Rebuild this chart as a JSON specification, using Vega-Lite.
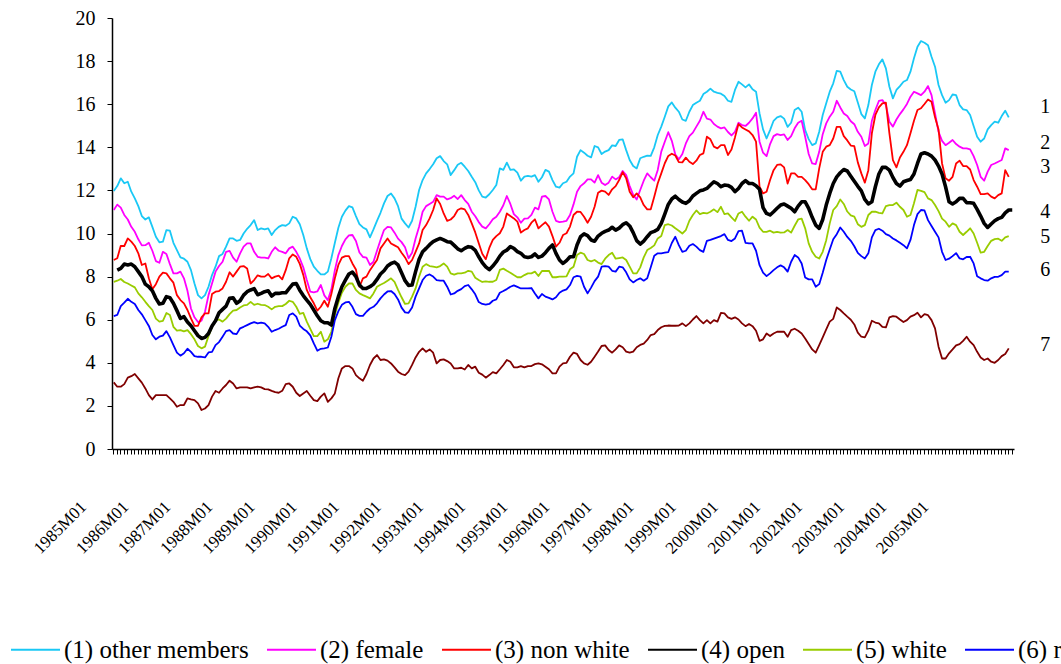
{
  "$schema": "https://vega.github.io/schema/vega-lite/v6.json",
  "width": 902,
  "height": 431,
  "autosize": {"type": "none"},
  "padding": {"left": 112, "top": 18, "right": 47, "bottom": 215},
  "background": "white",
  "config": {"view": {"stroke": null}, "font": "Liberation Serif"},
  "datasets": {
    "series": [
      {"m":"1985M01","s1":11.97,"s2":11.09,"s3":8.77,"s4":null,"s5":7.76,"s6":6.17,"s7":3.09},
      {"m":"1985M02","s1":12.20,"s2":11.34,"s3":8.85,"s4":8.30,"s5":7.81,"s6":6.22,"s7":2.89},
      {"m":"1985M03","s1":12.56,"s2":11.20,"s3":9.43,"s4":8.38,"s5":7.89,"s6":6.63,"s7":2.89},
      {"m":"1985M04","s1":12.33,"s2":10.86,"s3":9.42,"s4":8.58,"s5":7.75,"s6":6.79,"s7":3.01},
      {"m":"1985M05","s1":12.40,"s2":10.65,"s3":9.77,"s4":8.54,"s5":7.68,"s6":6.97,"s7":3.31},
      {"m":"1985M06","s1":11.94,"s2":10.31,"s3":9.62,"s4":8.58,"s5":7.59,"s6":6.83,"s7":3.38},
      {"m":"1985M07","s1":11.63,"s2":10.08,"s3":9.42,"s4":8.46,"s5":7.50,"s6":6.73,"s7":3.48},
      {"m":"1985M08","s1":11.27,"s2":9.73,"s3":9.08,"s4":8.23,"s5":7.22,"s6":6.45,"s7":3.28},
      {"m":"1985M09","s1":10.81,"s2":9.45,"s3":8.54,"s4":8.00,"s5":7.04,"s6":6.25,"s7":3.08},
      {"m":"1985M10","s1":10.65,"s2":9.46,"s3":8.61,"s4":7.65,"s5":6.83,"s6":5.98,"s7":2.81},
      {"m":"1985M11","s1":10.75,"s2":9.57,"s3":7.92,"s4":7.53,"s5":6.63,"s6":5.71,"s7":2.50},
      {"m":"1985M12","s1":10.31,"s2":9.20,"s3":7.41,"s4":7.34,"s5":6.45,"s6":5.29,"s7":2.30},
      {"m":"1986M01","s1":9.85,"s2":8.72,"s3":7.65,"s4":6.99,"s5":6.05,"s6":5.09,"s7":2.50},
      {"m":"1986M02","s1":9.59,"s2":8.64,"s3":8.00,"s4":6.73,"s5":5.91,"s6":5.21,"s7":2.50},
      {"m":"1986M03","s1":9.62,"s2":9.15,"s3":8.18,"s4":6.76,"s5":5.95,"s6":5.26,"s7":2.50},
      {"m":"1986M04","s1":10.16,"s2":9.05,"s3":8.15,"s4":7.07,"s5":6.31,"s6":5.47,"s7":2.50},
      {"m":"1986M05","s1":10.13,"s2":8.58,"s3":7.92,"s4":7.02,"s5":6.22,"s6":5.18,"s7":2.35},
      {"m":"1986M06","s1":9.57,"s2":8.15,"s3":7.72,"s4":6.76,"s5":5.67,"s6":4.82,"s7":2.19},
      {"m":"1986M07","s1":9.23,"s2":8.15,"s3":7.14,"s4":6.42,"s5":5.49,"s6":4.47,"s7":1.96},
      {"m":"1986M08","s1":8.89,"s2":8.23,"s3":6.91,"s4":6.06,"s5":5.52,"s6":4.33,"s7":2.04},
      {"m":"1986M09","s1":8.83,"s2":7.92,"s3":6.76,"s4":6.14,"s5":5.46,"s6":4.44,"s7":2.04},
      {"m":"1986M10","s1":8.69,"s2":7.34,"s3":6.45,"s4":5.89,"s5":5.52,"s6":4.65,"s7":2.35},
      {"m":"1986M11","s1":8.30,"s2":6.52,"s3":6.06,"s4":5.72,"s5":5.33,"s6":4.51,"s7":2.30},
      {"m":"1986M12","s1":7.68,"s2":6.11,"s3":5.71,"s4":5.49,"s5":5.09,"s6":4.31,"s7":2.27},
      {"m":"1987M01","s1":7.14,"s2":5.89,"s3":5.72,"s4":5.26,"s5":4.78,"s6":4.28,"s7":2.12},
      {"m":"1987M02","s1":6.99,"s2":5.95,"s3":6.11,"s4":5.13,"s5":4.67,"s6":4.28,"s7":1.81},
      {"m":"1987M03","s1":7.14,"s2":6.37,"s3":6.29,"s4":5.18,"s5":4.75,"s6":4.25,"s7":1.88},
      {"m":"1987M04","s1":7.53,"s2":7.14,"s3":6.29,"s4":5.36,"s5":5.24,"s6":4.48,"s7":2.04},
      {"m":"1987M05","s1":8.07,"s2":7.68,"s3":7.19,"s4":5.71,"s5":5.67,"s6":4.51,"s7":2.43},
      {"m":"1987M06","s1":8.46,"s2":8.23,"s3":7.30,"s4":5.95,"s5":5.95,"s6":4.82,"s7":2.69},
      {"m":"1987M07","s1":8.95,"s2":8.49,"s3":7.33,"s4":6.32,"s5":6.01,"s6":4.96,"s7":2.61},
      {"m":"1987M08","s1":9.05,"s2":8.69,"s3":7.45,"s4":6.48,"s5":5.91,"s6":5.21,"s7":2.81},
      {"m":"1987M09","s1":9.39,"s2":9.15,"s3":7.76,"s4":6.63,"s5":6.05,"s6":5.47,"s7":2.97},
      {"m":"1987M10","s1":9.77,"s2":9.19,"s3":8.20,"s4":6.99,"s5":6.26,"s6":5.52,"s7":3.17},
      {"m":"1987M11","s1":9.77,"s2":8.88,"s3":8.00,"s4":7.02,"s5":6.42,"s6":5.36,"s7":3.04},
      {"m":"1987M12","s1":9.66,"s2":8.69,"s3":8.23,"s4":6.76,"s5":6.45,"s6":5.33,"s7":2.81},
      {"m":"1988M01","s1":9.70,"s2":9.08,"s3":8.46,"s4":6.88,"s5":6.57,"s6":5.60,"s7":2.86},
      {"m":"1988M02","s1":10.00,"s2":9.39,"s3":8.49,"s4":7.14,"s5":6.66,"s6":5.67,"s7":2.86},
      {"m":"1988M03","s1":10.22,"s2":9.54,"s3":8.38,"s4":7.30,"s5":6.69,"s6":5.75,"s7":2.86},
      {"m":"1988M04","s1":10.39,"s2":9.54,"s3":7.68,"s4":7.38,"s5":6.83,"s6":5.83,"s7":2.81},
      {"m":"1988M05","s1":10.62,"s2":9.15,"s3":7.84,"s4":7.44,"s5":6.69,"s6":5.89,"s7":2.86},
      {"m":"1988M06","s1":10.16,"s2":8.92,"s3":8.06,"s4":7.16,"s5":6.74,"s6":5.83,"s7":2.89},
      {"m":"1988M07","s1":10.24,"s2":8.88,"s3":8.00,"s4":7.22,"s5":6.69,"s6":5.86,"s7":2.86},
      {"m":"1988M08","s1":10.19,"s2":8.88,"s3":8.00,"s4":7.30,"s5":6.68,"s6":5.83,"s7":2.78},
      {"m":"1988M09","s1":10.24,"s2":8.84,"s3":8.12,"s4":7.34,"s5":6.60,"s6":5.67,"s7":2.77},
      {"m":"1988M10","s1":9.93,"s2":9.15,"s3":7.92,"s4":7.10,"s5":6.48,"s6":5.44,"s7":2.70},
      {"m":"1988M11","s1":10.16,"s2":9.36,"s3":8.00,"s4":7.22,"s5":6.60,"s6":5.52,"s7":2.64},
      {"m":"1988M12","s1":10.31,"s2":9.20,"s3":8.04,"s4":7.22,"s5":6.63,"s6":5.58,"s7":2.61},
      {"m":"1989M01","s1":10.39,"s2":9.15,"s3":7.87,"s4":7.25,"s5":6.63,"s6":5.67,"s7":2.70},
      {"m":"1989M02","s1":10.36,"s2":9.08,"s3":8.30,"s4":7.25,"s5":6.73,"s6":5.75,"s7":3.01},
      {"m":"1989M03","s1":10.47,"s2":9.31,"s3":8.85,"s4":7.45,"s5":6.88,"s6":6.22,"s7":3.04},
      {"m":"1989M04","s1":10.78,"s2":9.39,"s3":9.03,"s4":7.65,"s5":6.83,"s6":6.29,"s7":2.89},
      {"m":"1989M05","s1":10.70,"s2":9.15,"s3":8.92,"s4":7.68,"s5":6.60,"s6":6.14,"s7":2.61},
      {"m":"1989M06","s1":10.43,"s2":8.84,"s3":8.59,"s4":7.37,"s5":6.27,"s6":5.73,"s7":2.46},
      {"m":"1989M07","s1":9.93,"s2":8.43,"s3":8.08,"s4":7.12,"s5":6.32,"s6":5.57,"s7":2.58},
      {"m":"1989M08","s1":9.31,"s2":7.84,"s3":7.38,"s4":6.91,"s5":5.91,"s6":5.46,"s7":2.69},
      {"m":"1989M09","s1":8.81,"s2":7.30,"s3":7.04,"s4":6.71,"s5":5.57,"s6":5.27,"s7":2.47},
      {"m":"1989M10","s1":8.46,"s2":7.27,"s3":6.76,"s4":6.45,"s5":5.24,"s6":4.90,"s7":2.27},
      {"m":"1989M11","s1":8.27,"s2":7.31,"s3":6.42,"s4":6.18,"s5":5.24,"s6":4.56,"s7":2.22},
      {"m":"1989M12","s1":8.10,"s2":7.61,"s3":6.60,"s4":5.95,"s5":5.44,"s6":4.65,"s7":2.43},
      {"m":"1990M01","s1":8.10,"s2":7.13,"s3":6.88,"s4":5.86,"s5":4.98,"s6":4.67,"s7":2.58},
      {"m":"1990M02","s1":8.23,"s2":6.91,"s3":6.60,"s4":5.86,"s5":5.09,"s6":4.71,"s7":2.19},
      {"m":"1990M03","s1":8.85,"s2":7.41,"s3":7.19,"s4":5.75,"s5":5.44,"s6":5.21,"s7":2.35},
      {"m":"1990M04","s1":9.57,"s2":8.30,"s3":7.92,"s4":6.52,"s5":6.22,"s6":5.98,"s7":2.58},
      {"m":"1990M05","s1":10.27,"s2":9.00,"s3":8.54,"s4":7.07,"s5":6.79,"s6":6.40,"s7":3.28},
      {"m":"1990M06","s1":10.78,"s2":9.42,"s3":8.88,"s4":7.53,"s5":7.25,"s6":6.69,"s7":3.74},
      {"m":"1990M07","s1":11.06,"s2":9.73,"s3":8.95,"s4":7.84,"s5":7.53,"s6":6.80,"s7":3.85},
      {"m":"1990M08","s1":11.27,"s2":9.91,"s3":8.95,"s4":8.12,"s5":7.68,"s6":6.83,"s7":3.85},
      {"m":"1990M09","s1":11.21,"s2":9.93,"s3":8.61,"s4":8.21,"s5":7.68,"s6":6.60,"s7":3.74},
      {"m":"1990M10","s1":10.81,"s2":9.65,"s3":8.33,"s4":8.00,"s5":7.38,"s6":6.26,"s7":3.43},
      {"m":"1990M11","s1":10.44,"s2":9.12,"s3":7.53,"s4":7.61,"s5":7.22,"s6":6.18,"s7":3.28},
      {"m":"1990M12","s1":10.28,"s2":8.91,"s3":7.92,"s4":7.45,"s5":7.14,"s6":6.18,"s7":3.17},
      {"m":"1991M01","s1":10.19,"s2":8.88,"s3":8.00,"s4":7.45,"s5":7.07,"s6":6.37,"s7":3.48},
      {"m":"1991M02","s1":9.82,"s2":8.54,"s3":8.30,"s4":7.53,"s5":6.99,"s6":6.52,"s7":3.90},
      {"m":"1991M03","s1":10.19,"s2":8.69,"s3":8.54,"s4":7.65,"s5":7.22,"s6":6.60,"s7":4.20},
      {"m":"1991M04","s1":10.59,"s2":9.20,"s3":8.77,"s4":7.87,"s5":7.53,"s6":6.76,"s7":4.36},
      {"m":"1991M05","s1":10.96,"s2":9.70,"s3":9.31,"s4":8.12,"s5":7.62,"s6":6.99,"s7":4.13},
      {"m":"1991M06","s1":11.40,"s2":10.16,"s3":9.54,"s4":8.27,"s5":7.70,"s6":7.17,"s7":4.16},
      {"m":"1991M07","s1":11.74,"s2":10.31,"s3":9.77,"s4":8.49,"s5":7.81,"s6":7.31,"s7":4.10},
      {"m":"1991M08","s1":11.86,"s2":10.28,"s3":9.54,"s4":8.61,"s5":7.92,"s6":7.33,"s7":3.97},
      {"m":"1991M09","s1":11.63,"s2":10.04,"s3":9.45,"s4":8.67,"s5":7.76,"s6":7.19,"s7":3.79},
      {"m":"1991M10","s1":11.27,"s2":9.76,"s3":9.36,"s4":8.54,"s5":7.38,"s6":6.94,"s7":3.59},
      {"m":"1991M11","s1":10.69,"s2":9.60,"s3":9.11,"s4":8.18,"s5":7.04,"s6":6.56,"s7":3.48},
      {"m":"1991M12","s1":10.47,"s2":9.36,"s3":8.89,"s4":7.81,"s5":6.73,"s6":6.34,"s7":3.43},
      {"m":"1992M01","s1":10.28,"s2":8.85,"s3":8.58,"s4":7.59,"s5":6.76,"s6":6.32,"s7":3.59},
      {"m":"1992M02","s1":10.59,"s2":9.11,"s3":8.77,"s4":7.61,"s5":7.07,"s6":6.57,"s7":3.90},
      {"m":"1992M03","s1":11.24,"s2":9.77,"s3":9.15,"s4":8.23,"s5":7.45,"s6":7.07,"s7":4.25},
      {"m":"1992M04","s1":12.02,"s2":10.31,"s3":9.54,"s4":8.80,"s5":8.00,"s6":7.45,"s7":4.51},
      {"m":"1992M05","s1":12.48,"s2":11.01,"s3":10.16,"s4":9.15,"s5":8.46,"s6":7.84,"s7":4.67},
      {"m":"1992M06","s1":12.79,"s2":11.27,"s3":10.39,"s4":9.31,"s5":8.58,"s6":8.04,"s7":4.51},
      {"m":"1992M07","s1":12.99,"s2":11.37,"s3":10.70,"s4":9.48,"s5":8.49,"s6":8.10,"s7":4.62},
      {"m":"1992M08","s1":13.21,"s2":11.47,"s3":11.09,"s4":9.62,"s5":8.46,"s6":8.00,"s7":4.47},
      {"m":"1992M09","s1":13.49,"s2":11.78,"s3":11.63,"s4":9.70,"s5":8.43,"s6":7.84,"s7":3.97},
      {"m":"1992M10","s1":13.59,"s2":11.71,"s3":11.37,"s4":9.77,"s5":8.49,"s6":7.81,"s7":4.13},
      {"m":"1992M11","s1":13.36,"s2":11.71,"s3":10.93,"s4":9.70,"s5":8.61,"s6":7.81,"s7":4.16},
      {"m":"1992M12","s1":13.21,"s2":11.58,"s3":10.59,"s4":9.62,"s5":8.46,"s6":7.53,"s7":4.08},
      {"m":"1993M01","s1":12.71,"s2":11.64,"s3":10.65,"s4":9.60,"s5":8.15,"s6":7.17,"s7":3.97},
      {"m":"1993M02","s1":12.94,"s2":11.75,"s3":10.81,"s4":9.45,"s5":8.09,"s6":7.22,"s7":3.74},
      {"m":"1993M03","s1":13.19,"s2":11.60,"s3":11.09,"s4":9.29,"s5":8.15,"s6":7.34,"s7":3.74},
      {"m":"1993M04","s1":13.28,"s2":11.78,"s3":11.17,"s4":9.20,"s5":8.15,"s6":7.42,"s7":3.77},
      {"m":"1993M05","s1":13.10,"s2":11.55,"s3":11.12,"s4":9.31,"s5":8.18,"s6":7.56,"s7":3.69},
      {"m":"1993M06","s1":12.90,"s2":11.37,"s3":10.86,"s4":9.39,"s5":8.27,"s6":7.61,"s7":3.90},
      {"m":"1993M07","s1":12.63,"s2":11.01,"s3":10.47,"s4":9.36,"s5":8.23,"s6":7.41,"s7":3.74},
      {"m":"1993M08","s1":12.38,"s2":10.80,"s3":10.05,"s4":9.22,"s5":7.95,"s6":7.18,"s7":3.82},
      {"m":"1993M09","s1":12.00,"s2":10.53,"s3":9.55,"s4":8.92,"s5":7.84,"s6":6.82,"s7":3.54},
      {"m":"1993M10","s1":11.71,"s2":10.32,"s3":9.06,"s4":8.65,"s5":7.75,"s6":6.73,"s7":3.45},
      {"m":"1993M11","s1":11.67,"s2":10.24,"s3":8.81,"s4":8.45,"s5":7.78,"s6":6.70,"s7":3.31},
      {"m":"1993M12","s1":11.82,"s2":10.43,"s3":9.33,"s4":8.32,"s5":7.76,"s6":6.73,"s7":3.43},
      {"m":"1994M01","s1":12.02,"s2":10.66,"s3":9.70,"s4":8.49,"s5":7.76,"s6":6.88,"s7":3.57},
      {"m":"1994M02","s1":12.25,"s2":10.78,"s3":9.88,"s4":8.69,"s5":7.84,"s6":6.94,"s7":3.51},
      {"m":"1994M03","s1":13.02,"s2":11.01,"s3":10.01,"s4":8.95,"s5":8.31,"s6":7.25,"s7":3.70},
      {"m":"1994M04","s1":12.95,"s2":11.31,"s3":10.32,"s4":9.14,"s5":8.37,"s6":7.33,"s7":3.90},
      {"m":"1994M05","s1":13.29,"s2":11.74,"s3":10.93,"s4":9.23,"s5":8.27,"s6":7.42,"s7":4.13},
      {"m":"1994M06","s1":12.95,"s2":11.37,"s3":10.81,"s4":9.39,"s5":8.18,"s6":7.53,"s7":4.05},
      {"m":"1994M07","s1":12.98,"s2":10.90,"s3":10.70,"s4":9.31,"s5":8.07,"s6":7.59,"s7":3.79},
      {"m":"1994M08","s1":12.82,"s2":10.75,"s3":10.55,"s4":9.16,"s5":7.97,"s6":7.52,"s7":3.79},
      {"m":"1994M09","s1":12.45,"s2":10.50,"s3":10.04,"s4":9.08,"s5":7.97,"s6":7.45,"s7":3.85},
      {"m":"1994M10","s1":12.64,"s2":10.69,"s3":10.16,"s4":8.92,"s5":8.07,"s6":7.45,"s7":3.79},
      {"m":"1994M11","s1":12.67,"s2":10.70,"s3":10.24,"s4":8.89,"s5":8.15,"s6":7.45,"s7":3.85},
      {"m":"1994M12","s1":12.64,"s2":10.86,"s3":10.50,"s4":8.92,"s5":8.15,"s6":7.47,"s7":3.85},
      {"m":"1995M01","s1":12.71,"s2":11.20,"s3":10.66,"s4":9.05,"s5":8.23,"s6":7.22,"s7":3.94},
      {"m":"1995M02","s1":12.40,"s2":11.12,"s3":10.24,"s4":8.89,"s5":8.03,"s6":6.99,"s7":3.97},
      {"m":"1995M03","s1":12.61,"s2":11.71,"s3":10.39,"s4":8.95,"s5":8.26,"s6":7.19,"s7":3.93},
      {"m":"1995M04","s1":12.95,"s2":11.74,"s3":10.52,"s4":9.11,"s5":8.26,"s6":7.07,"s7":3.82},
      {"m":"1995M05","s1":12.87,"s2":11.58,"s3":10.32,"s4":9.31,"s5":8.27,"s6":7.01,"s7":3.70},
      {"m":"1995M06","s1":12.48,"s2":11.01,"s3":9.88,"s4":9.47,"s5":7.97,"s6":6.94,"s7":3.51},
      {"m":"1995M07","s1":12.17,"s2":10.59,"s3":9.39,"s4":9.08,"s5":7.97,"s6":7.04,"s7":3.51},
      {"m":"1995M08","s1":12.13,"s2":10.53,"s3":9.57,"s4":8.77,"s5":8.00,"s6":7.25,"s7":3.82},
      {"m":"1995M09","s1":12.33,"s2":10.55,"s3":9.93,"s4":8.61,"s5":8.00,"s6":7.35,"s7":3.97},
      {"m":"1995M10","s1":12.40,"s2":10.59,"s3":10.01,"s4":8.74,"s5":8.01,"s6":7.41,"s7":4.00},
      {"m":"1995M11","s1":12.64,"s2":10.86,"s3":10.32,"s4":8.92,"s5":8.34,"s6":7.61,"s7":4.28},
      {"m":"1995M12","s1":12.79,"s2":11.35,"s3":10.86,"s4":8.92,"s5":8.46,"s6":7.97,"s7":4.47},
      {"m":"1996M01","s1":13.56,"s2":11.94,"s3":11.01,"s4":9.47,"s5":9.00,"s6":8.03,"s7":4.41},
      {"m":"1996M02","s1":13.87,"s2":12.20,"s3":11.00,"s4":9.85,"s5":9.11,"s6":8.00,"s7":4.13},
      {"m":"1996M03","s1":13.75,"s2":12.33,"s3":10.78,"s4":9.98,"s5":9.05,"s6":7.53,"s7":3.97},
      {"m":"1996M04","s1":13.61,"s2":12.51,"s3":10.50,"s4":9.90,"s5":8.77,"s6":7.22,"s7":3.91},
      {"m":"1996M05","s1":13.53,"s2":12.51,"s3":10.78,"s4":9.70,"s5":8.71,"s6":7.49,"s7":4.05},
      {"m":"1996M06","s1":14.06,"s2":12.36,"s3":11.24,"s4":9.64,"s5":8.77,"s6":7.79,"s7":4.28},
      {"m":"1996M07","s1":14.00,"s2":12.71,"s3":11.89,"s4":9.88,"s5":8.65,"s6":8.00,"s7":4.52},
      {"m":"1996M08","s1":13.69,"s2":12.36,"s3":11.99,"s4":10.01,"s5":8.58,"s6":8.46,"s7":4.78},
      {"m":"1996M09","s1":13.80,"s2":12.25,"s3":11.94,"s4":10.10,"s5":8.83,"s6":8.49,"s7":4.81},
      {"m":"1996M10","s1":13.87,"s2":12.36,"s3":11.79,"s4":10.16,"s5":9.00,"s6":8.46,"s7":4.59},
      {"m":"1996M11","s1":14.09,"s2":12.64,"s3":12.05,"s4":10.29,"s5":9.11,"s6":8.27,"s7":4.47},
      {"m":"1996M12","s1":14.06,"s2":12.51,"s3":12.20,"s4":10.16,"s5":8.83,"s6":8.23,"s7":4.62},
      {"m":"1997M01","s1":14.34,"s2":12.61,"s3":12.48,"s4":10.25,"s5":8.86,"s6":8.46,"s7":4.81},
      {"m":"1997M02","s1":14.37,"s2":12.90,"s3":12.85,"s4":10.41,"s5":8.89,"s6":8.43,"s7":4.72},
      {"m":"1997M03","s1":13.87,"s2":12.71,"s3":12.56,"s4":10.50,"s5":8.77,"s6":8.20,"s7":4.52},
      {"m":"1997M04","s1":13.41,"s2":12.20,"s3":11.94,"s4":10.35,"s5":8.46,"s6":7.87,"s7":4.47},
      {"m":"1997M05","s1":13.13,"s2":11.79,"s3":11.68,"s4":10.04,"s5":8.15,"s6":7.73,"s7":4.52},
      {"m":"1997M06","s1":13.02,"s2":11.58,"s3":11.86,"s4":9.67,"s5":8.15,"s6":7.84,"s7":4.72},
      {"m":"1997M07","s1":13.49,"s2":12.02,"s3":11.68,"s4":9.51,"s5":8.43,"s6":7.92,"s7":4.83},
      {"m":"1997M08","s1":13.56,"s2":12.45,"s3":11.32,"s4":9.65,"s5":8.89,"s6":7.81,"s7":4.89},
      {"m":"1997M09","s1":13.61,"s2":12.79,"s3":11.12,"s4":9.85,"s5":9.23,"s6":7.92,"s7":5.06},
      {"m":"1997M10","s1":13.60,"s2":12.61,"s3":11.12,"s4":10.04,"s5":9.33,"s6":8.43,"s7":5.29},
      {"m":"1997M11","s1":14.00,"s2":12.45,"s3":11.71,"s4":10.10,"s5":9.45,"s6":8.97,"s7":5.33},
      {"m":"1997M12","s1":14.57,"s2":12.95,"s3":12.33,"s4":10.19,"s5":9.77,"s6":9.08,"s7":5.52},
      {"m":"1998M01","s1":14.96,"s2":13.80,"s3":12.79,"s4":10.47,"s5":9.88,"s6":9.08,"s7":5.65},
      {"m":"1998M02","s1":15.42,"s2":14.26,"s3":13.26,"s4":10.90,"s5":10.39,"s6":9.11,"s7":5.71},
      {"m":"1998M03","s1":15.90,"s2":14.70,"s3":13.60,"s4":11.35,"s5":10.43,"s6":9.14,"s7":5.73},
      {"m":"1998M04","s1":16.08,"s2":14.30,"s3":13.70,"s4":11.60,"s5":10.37,"s6":9.56,"s7":5.72},
      {"m":"1998M05","s1":15.84,"s2":13.67,"s3":13.62,"s4":11.73,"s5":10.24,"s6":9.85,"s7":5.72},
      {"m":"1998M06","s1":15.65,"s2":13.44,"s3":13.31,"s4":11.58,"s5":10.13,"s6":9.46,"s7":5.73},
      {"m":"1998M07","s1":15.29,"s2":13.69,"s3":13.30,"s4":11.46,"s5":10.00,"s6":9.15,"s7":5.83},
      {"m":"1998M08","s1":15.23,"s2":14.18,"s3":13.52,"s4":11.40,"s5":10.16,"s6":9.20,"s7":5.70},
      {"m":"1998M09","s1":15.65,"s2":14.52,"s3":13.33,"s4":11.52,"s5":10.59,"s6":9.43,"s7":5.83},
      {"m":"1998M10","s1":15.96,"s2":14.68,"s3":13.22,"s4":11.74,"s5":10.86,"s6":9.51,"s7":6.01},
      {"m":"1998M11","s1":16.07,"s2":14.96,"s3":13.38,"s4":11.86,"s5":11.07,"s6":9.39,"s7":6.17},
      {"m":"1998M12","s1":16.16,"s2":15.23,"s3":13.64,"s4":11.98,"s5":10.90,"s6":9.23,"s7":5.98},
      {"m":"1999M01","s1":16.47,"s2":15.65,"s3":13.72,"s4":12.02,"s5":10.96,"s6":9.15,"s7":5.83},
      {"m":"1999M02","s1":16.58,"s2":15.33,"s3":14.49,"s4":12.09,"s5":10.93,"s6":9.66,"s7":5.98},
      {"m":"1999M03","s1":16.72,"s2":15.29,"s3":14.37,"s4":12.25,"s5":11.01,"s6":9.70,"s7":5.83},
      {"m":"1999M04","s1":16.58,"s2":15.08,"s3":14.03,"s4":12.40,"s5":11.12,"s6":9.76,"s7":5.98},
      {"m":"1999M05","s1":16.53,"s2":14.96,"s3":13.95,"s4":12.32,"s5":10.99,"s6":9.82,"s7":5.91},
      {"m":"1999M06","s1":16.49,"s2":14.88,"s3":14.10,"s4":12.17,"s5":11.24,"s6":9.88,"s7":6.32},
      {"m":"1999M07","s1":16.38,"s2":14.92,"s3":14.10,"s4":12.25,"s5":10.90,"s6":9.97,"s7":6.29},
      {"m":"1999M08","s1":16.16,"s2":14.71,"s3":13.64,"s4":12.23,"s5":10.93,"s6":9.70,"s7":6.11},
      {"m":"1999M09","s1":16.11,"s2":14.55,"s3":13.90,"s4":12.14,"s5":10.75,"s6":9.65,"s7":6.04},
      {"m":"1999M10","s1":16.66,"s2":14.72,"s3":14.46,"s4":11.94,"s5":10.58,"s6":9.77,"s7":6.11},
      {"m":"1999M11","s1":17.04,"s2":15.14,"s3":15.08,"s4":12.09,"s5":10.93,"s6":10.11,"s7":6.01},
      {"m":"1999M12","s1":16.92,"s2":15.03,"s3":14.92,"s4":12.32,"s5":11.01,"s6":10.13,"s7":5.83},
      {"m":"2000M01","s1":16.78,"s2":14.99,"s3":14.83,"s4":12.45,"s5":10.78,"s6":9.57,"s7":5.70},
      {"m":"2000M02","s1":16.92,"s2":15.14,"s3":14.74,"s4":12.32,"s5":10.59,"s6":9.54,"s7":5.80},
      {"m":"2000M03","s1":16.69,"s2":15.34,"s3":14.57,"s4":12.32,"s5":10.78,"s6":9.54,"s7":5.70},
      {"m":"2000M04","s1":16.58,"s2":15.60,"s3":14.26,"s4":12.22,"s5":10.65,"s6":9.20,"s7":5.49},
      {"m":"2000M05","s1":15.57,"s2":14.26,"s3":12.17,"s4":12.05,"s5":10.27,"s6":8.53,"s7":5.02},
      {"m":"2000M06","s1":14.83,"s2":13.75,"s3":11.86,"s4":11.20,"s5":10.08,"s6":8.18,"s7":5.09},
      {"m":"2000M07","s1":14.41,"s2":13.59,"s3":11.94,"s4":10.93,"s5":10.08,"s6":8.02,"s7":5.36},
      {"m":"2000M08","s1":14.80,"s2":14.15,"s3":12.48,"s4":10.86,"s5":10.13,"s6":8.15,"s7":5.24},
      {"m":"2000M09","s1":15.23,"s2":14.52,"s3":12.94,"s4":11.01,"s5":10.04,"s6":8.30,"s7":5.36},
      {"m":"2000M10","s1":15.39,"s2":14.61,"s3":13.18,"s4":11.17,"s5":10.08,"s6":8.43,"s7":5.44},
      {"m":"2000M11","s1":15.45,"s2":14.57,"s3":13.21,"s4":11.32,"s5":10.04,"s6":8.52,"s7":5.44},
      {"m":"2000M12","s1":15.33,"s2":14.60,"s3":13.07,"s4":11.37,"s5":10.05,"s6":8.43,"s7":5.44},
      {"m":"2001M01","s1":14.95,"s2":14.34,"s3":12.32,"s4":11.27,"s5":10.16,"s6":8.23,"s7":5.21},
      {"m":"2001M02","s1":15.14,"s2":14.52,"s3":12.79,"s4":11.17,"s5":10.04,"s6":8.69,"s7":5.52},
      {"m":"2001M03","s1":15.73,"s2":14.88,"s3":12.79,"s4":11.01,"s5":10.36,"s6":9.00,"s7":5.58},
      {"m":"2001M04","s1":15.84,"s2":15.14,"s3":12.63,"s4":11.27,"s5":10.65,"s6":8.89,"s7":5.49},
      {"m":"2001M05","s1":15.65,"s2":15.23,"s3":12.63,"s4":11.47,"s5":10.69,"s6":8.61,"s7":5.36},
      {"m":"2001M06","s1":14.80,"s2":14.49,"s3":12.48,"s4":11.47,"s5":10.24,"s6":7.96,"s7":5.13},
      {"m":"2001M07","s1":14.38,"s2":13.69,"s3":12.29,"s4":11.17,"s5":9.54,"s6":7.87,"s7":4.87},
      {"m":"2001M08","s1":14.10,"s2":13.25,"s3":12.05,"s4":10.75,"s5":9.15,"s6":7.87,"s7":4.62},
      {"m":"2001M09","s1":14.18,"s2":13.22,"s3":12.05,"s4":10.39,"s5":8.92,"s6":7.53,"s7":4.47},
      {"m":"2001M10","s1":14.72,"s2":13.79,"s3":13.02,"s4":10.24,"s5":8.84,"s6":7.65,"s7":4.82},
      {"m":"2001M11","s1":15.50,"s2":14.61,"s3":13.79,"s4":10.65,"s5":9.15,"s6":8.18,"s7":5.18},
      {"m":"2001M12","s1":16.04,"s2":15.11,"s3":14.03,"s4":11.32,"s5":9.69,"s6":8.77,"s7":5.55},
      {"m":"2002M01","s1":16.58,"s2":15.42,"s3":14.10,"s4":11.86,"s5":10.47,"s6":9.26,"s7":5.91},
      {"m":"2002M02","s1":16.97,"s2":15.65,"s3":14.41,"s4":12.32,"s5":11.09,"s6":9.73,"s7":6.04},
      {"m":"2002M03","s1":17.55,"s2":16.16,"s3":14.95,"s4":12.63,"s5":11.27,"s6":9.97,"s7":6.57},
      {"m":"2002M04","s1":17.51,"s2":15.85,"s3":14.95,"s4":12.82,"s5":11.58,"s6":10.28,"s7":6.45},
      {"m":"2002M05","s1":17.12,"s2":15.57,"s3":14.52,"s4":12.97,"s5":11.37,"s6":10.08,"s7":6.29},
      {"m":"2002M06","s1":16.81,"s2":15.45,"s3":14.32,"s4":12.90,"s5":11.02,"s6":9.84,"s7":6.14},
      {"m":"2002M07","s1":16.68,"s2":15.21,"s3":14.08,"s4":12.66,"s5":10.84,"s6":9.66,"s7":6.00},
      {"m":"2002M08","s1":16.60,"s2":15.07,"s3":14.05,"s4":12.42,"s5":10.78,"s6":9.41,"s7":5.78},
      {"m":"2002M09","s1":16.08,"s2":14.72,"s3":13.30,"s4":12.19,"s5":10.43,"s6":9.10,"s7":5.40},
      {"m":"2002M10","s1":15.54,"s2":14.49,"s3":12.79,"s4":11.98,"s5":10.31,"s6":8.95,"s7":5.21},
      {"m":"2002M11","s1":15.34,"s2":14.06,"s3":12.36,"s4":11.58,"s5":10.39,"s6":8.84,"s7":5.18},
      {"m":"2002M12","s1":15.96,"s2":14.18,"s3":12.94,"s4":11.37,"s5":10.86,"s6":9.08,"s7":5.49},
      {"m":"2003M01","s1":16.89,"s2":15.23,"s3":14.65,"s4":11.47,"s5":11.01,"s6":9.82,"s7":5.95},
      {"m":"2003M02","s1":17.51,"s2":15.73,"s3":15.50,"s4":12.17,"s5":11.01,"s6":10.16,"s7":5.87},
      {"m":"2003M03","s1":17.85,"s2":16.15,"s3":15.85,"s4":12.76,"s5":10.96,"s6":10.22,"s7":5.83},
      {"m":"2003M04","s1":18.08,"s2":16.19,"s3":16.04,"s4":13.07,"s5":10.93,"s6":10.13,"s7":5.67},
      {"m":"2003M05","s1":17.66,"s2":15.96,"s3":16.07,"s4":13.07,"s5":11.27,"s6":9.97,"s7":5.64},
      {"m":"2003M06","s1":16.81,"s2":15.19,"s3":14.65,"s4":12.94,"s5":11.32,"s6":9.90,"s7":6.11},
      {"m":"2003M07","s1":16.27,"s2":14.96,"s3":13.41,"s4":12.60,"s5":11.32,"s6":9.77,"s7":6.17},
      {"m":"2003M08","s1":16.66,"s2":15.29,"s3":13.07,"s4":12.32,"s5":11.43,"s6":9.68,"s7":6.14},
      {"m":"2003M09","s1":16.84,"s2":15.54,"s3":13.53,"s4":12.20,"s5":11.24,"s6":9.57,"s7":6.01},
      {"m":"2003M10","s1":17.04,"s2":15.76,"s3":13.79,"s4":12.40,"s5":11.09,"s6":9.46,"s7":5.89},
      {"m":"2003M11","s1":17.12,"s2":16.01,"s3":14.10,"s4":12.46,"s5":10.78,"s6":9.31,"s7":5.98},
      {"m":"2003M12","s1":17.51,"s2":16.35,"s3":14.65,"s4":12.51,"s5":10.86,"s6":9.70,"s7":6.14},
      {"m":"2004M01","s1":18.13,"s2":16.58,"s3":15.23,"s4":12.76,"s5":11.40,"s6":10.39,"s7":6.21},
      {"m":"2004M02","s1":18.67,"s2":16.50,"s3":15.73,"s4":13.25,"s5":12.02,"s6":10.90,"s7":6.32},
      {"m":"2004M03","s1":18.93,"s2":16.42,"s3":15.81,"s4":13.69,"s5":11.98,"s6":11.09,"s7":6.11},
      {"m":"2004M04","s1":18.85,"s2":16.58,"s3":16.01,"s4":13.75,"s5":11.92,"s6":11.07,"s7":6.26},
      {"m":"2004M05","s1":18.74,"s2":16.84,"s3":16.22,"s4":13.69,"s5":11.63,"s6":10.62,"s7":6.21},
      {"m":"2004M06","s1":18.20,"s2":16.42,"s3":16.11,"s4":13.59,"s5":11.55,"s6":10.35,"s7":5.98},
      {"m":"2004M07","s1":17.74,"s2":15.57,"s3":15.39,"s4":13.41,"s5":11.32,"s6":10.08,"s7":5.60},
      {"m":"2004M08","s1":16.89,"s2":14.72,"s3":14.83,"s4":13.13,"s5":11.04,"s6":9.82,"s7":4.75},
      {"m":"2004M09","s1":16.42,"s2":14.30,"s3":13.25,"s4":12.76,"s5":10.69,"s6":9.15,"s7":4.20},
      {"m":"2004M10","s1":16.07,"s2":14.10,"s3":12.56,"s4":12.17,"s5":10.55,"s6":8.77,"s7":4.20},
      {"m":"2004M11","s1":16.19,"s2":14.21,"s3":12.45,"s4":11.47,"s5":10.31,"s6":8.83,"s7":4.44},
      {"m":"2004M12","s1":16.45,"s2":14.34,"s3":12.63,"s4":11.37,"s5":10.47,"s6":8.95,"s7":4.62},
      {"m":"2005M01","s1":16.42,"s2":14.15,"s3":13.25,"s4":11.47,"s5":10.39,"s6":9.09,"s7":4.81},
      {"m":"2005M02","s1":15.96,"s2":14.03,"s3":13.38,"s4":11.63,"s5":10.08,"s6":8.84,"s7":4.87},
      {"m":"2005M03","s1":15.76,"s2":13.95,"s3":13.13,"s4":11.63,"s5":9.93,"s6":8.80,"s7":5.02},
      {"m":"2005M04","s1":15.73,"s2":13.95,"s3":13.13,"s4":11.43,"s5":10.08,"s6":8.91,"s7":5.21},
      {"m":"2005M05","s1":15.50,"s2":13.90,"s3":12.97,"s4":11.43,"s5":10.24,"s6":8.92,"s7":4.98},
      {"m":"2005M06","s1":14.99,"s2":13.59,"s3":12.48,"s4":11.40,"s5":10.00,"s6":8.61,"s7":4.82},
      {"m":"2005M07","s1":14.49,"s2":13.18,"s3":12.17,"s4":11.12,"s5":9.57,"s6":8.02,"s7":4.51},
      {"m":"2005M08","s1":14.26,"s2":12.63,"s3":11.83,"s4":10.81,"s5":9.11,"s6":7.92,"s7":4.25},
      {"m":"2005M09","s1":14.41,"s2":12.45,"s3":11.83,"s4":10.47,"s5":9.15,"s6":7.84,"s7":4.13},
      {"m":"2005M10","s1":14.83,"s2":12.87,"s3":11.86,"s4":10.28,"s5":9.42,"s6":7.81,"s7":4.20},
      {"m":"2005M11","s1":15.03,"s2":13.18,"s3":11.71,"s4":10.44,"s5":9.66,"s6":7.92,"s7":4.05},
      {"m":"2005M12","s1":15.19,"s2":13.25,"s3":11.63,"s4":10.59,"s5":9.74,"s6":7.99,"s7":4.00},
      {"m":"2006M01","s1":15.14,"s2":13.33,"s3":11.78,"s4":10.69,"s5":9.76,"s6":7.99,"s7":4.13},
      {"m":"2006M02","s1":15.45,"s2":13.41,"s3":11.86,"s4":10.75,"s5":9.66,"s6":8.07,"s7":4.31},
      {"m":"2006M03","s1":15.70,"s2":13.95,"s3":12.94,"s4":10.96,"s5":9.82,"s6":8.23,"s7":4.41},
      {"m":"2006M04","s1":15.39,"s2":13.87,"s3":12.63,"s4":11.09,"s5":9.88,"s6":8.23,"s7":4.67},
      {"m":"2006M05","s1":null,"s2":null,"s3":null,"s4":11.09,"s5":null,"s6":null,"s7":null}
    ],
    "tags": [
      {"m":"2006M05","n":"1","v":15.88},
      {"m":"2006M05","n":"2","v":14.19},
      {"m":"2006M05","n":"3","v":13.1},
      {"m":"2006M05","n":"4","v":11.01},
      {"m":"2006M05","n":"5","v":9.85},
      {"m":"2006M05","n":"6","v":8.31},
      {"m":"2006M05","n":"7","v":4.83}
    ]
  },
  "layer": [
    {
      "data": {"name": "series"},
      "transform": [{"fold": ["s1", "s2", "s3", "s5", "s6", "s7"], "as": ["key", "val"]}],
      "mark": {"type": "line", "strokeWidth": 1.8, "strokeJoin": "round"},
      "encoding": {
        "x": {
          "field": "m", "type": "ordinal",
          "scale": {"type": "band", "paddingInner": 0, "paddingOuter": 0},
          "axis": {
            "title": null, "grid": false, "orient": "bottom",
            "labelExpr": "slice(datum.value, 4) == 'M01' && datum.value < '2006' ? datum.value : ''",
            "labelOverlap": false, "labelAngle": -45, "labelAlign": "right", "labelBaseline": "middle",
            "labelFont": "Liberation Serif", "labelFontSize": 17, "labelColor": "black",
            "labelPadding": 50, "labelOffset": -30,
            "tickSize": 5, "tickColor": "black", "tickWidth": 1,
            "domainColor": "black", "domainWidth": 1.5
          }
        },
        "y": {
          "field": "val", "type": "quantitative",
          "scale": {"domain": [0, 20], "nice": false},
          "axis": {
            "title": null, "grid": false, "values": [0, 2, 4, 6, 8, 10, 12, 14, 16, 18, 20],
            "labelFont": "Liberation Serif", "labelFontSize": 20, "labelColor": "black", "labelPadding": 12,
            "tickSize": 5, "tickColor": "black", "domainColor": "black", "domainWidth": 1.5
          }
        },
        "color": {
          "field": "key", "type": "nominal",
          "scale": {
            "domain": ["s1", "s2", "s3", "s4", "s5", "s6", "s7"],
            "range": ["#1AC8F5", "#FF00FF", "#FF0000", "#000000", "#99CC00", "#0000FF", "#800000"]
          },
          "legend": {
            "orient": "none", "direction": "horizontal", "legendX": -102, "legendY": 606,
            "title": null, "padding": 0, "symbolType": "stroke", "symbolSize": 2401, "symbolStrokeWidth": 2,
            "labelFont": "Liberation Serif", "labelFontSize": 25, "labelColor": "black",
            "labelOffset": 3, "columnPadding": 14, "labelLimit": 0,
            "labelExpr": "datum.value == 's1' ? '(1) other members' : datum.value == 's2' ? '(2) female' : datum.value == 's3' ? '(3) non white' : datum.value == 's4' ? '(4) open' : datum.value == 's5' ? '(5) white' : datum.value == 's6' ? '(6) regular' : '(7) temporary'"
          }
        }
      }
    },
    {
      "data": {"name": "series"},
      "transform": [{"fold": ["s4"], "as": ["key", "val"]}],
      "mark": {"type": "line", "strokeWidth": 3.6, "strokeJoin": "round"},
      "encoding": {
        "x": {"field": "m", "type": "ordinal"},
        "y": {"field": "val", "type": "quantitative"},
        "color": {"field": "key", "type": "nominal"}
      }
    },
    {
      "data": {"name": "tags"},
      "mark": {"type": "text", "align": "left", "baseline": "middle", "dx": 28, "font": "Liberation Serif", "fontSize": 20, "color": "black"},
      "encoding": {
        "x": {"field": "m", "type": "ordinal"},
        "y": {"field": "v", "type": "quantitative"},
        "text": {"field": "n"}
      }
    }
  ]
}
